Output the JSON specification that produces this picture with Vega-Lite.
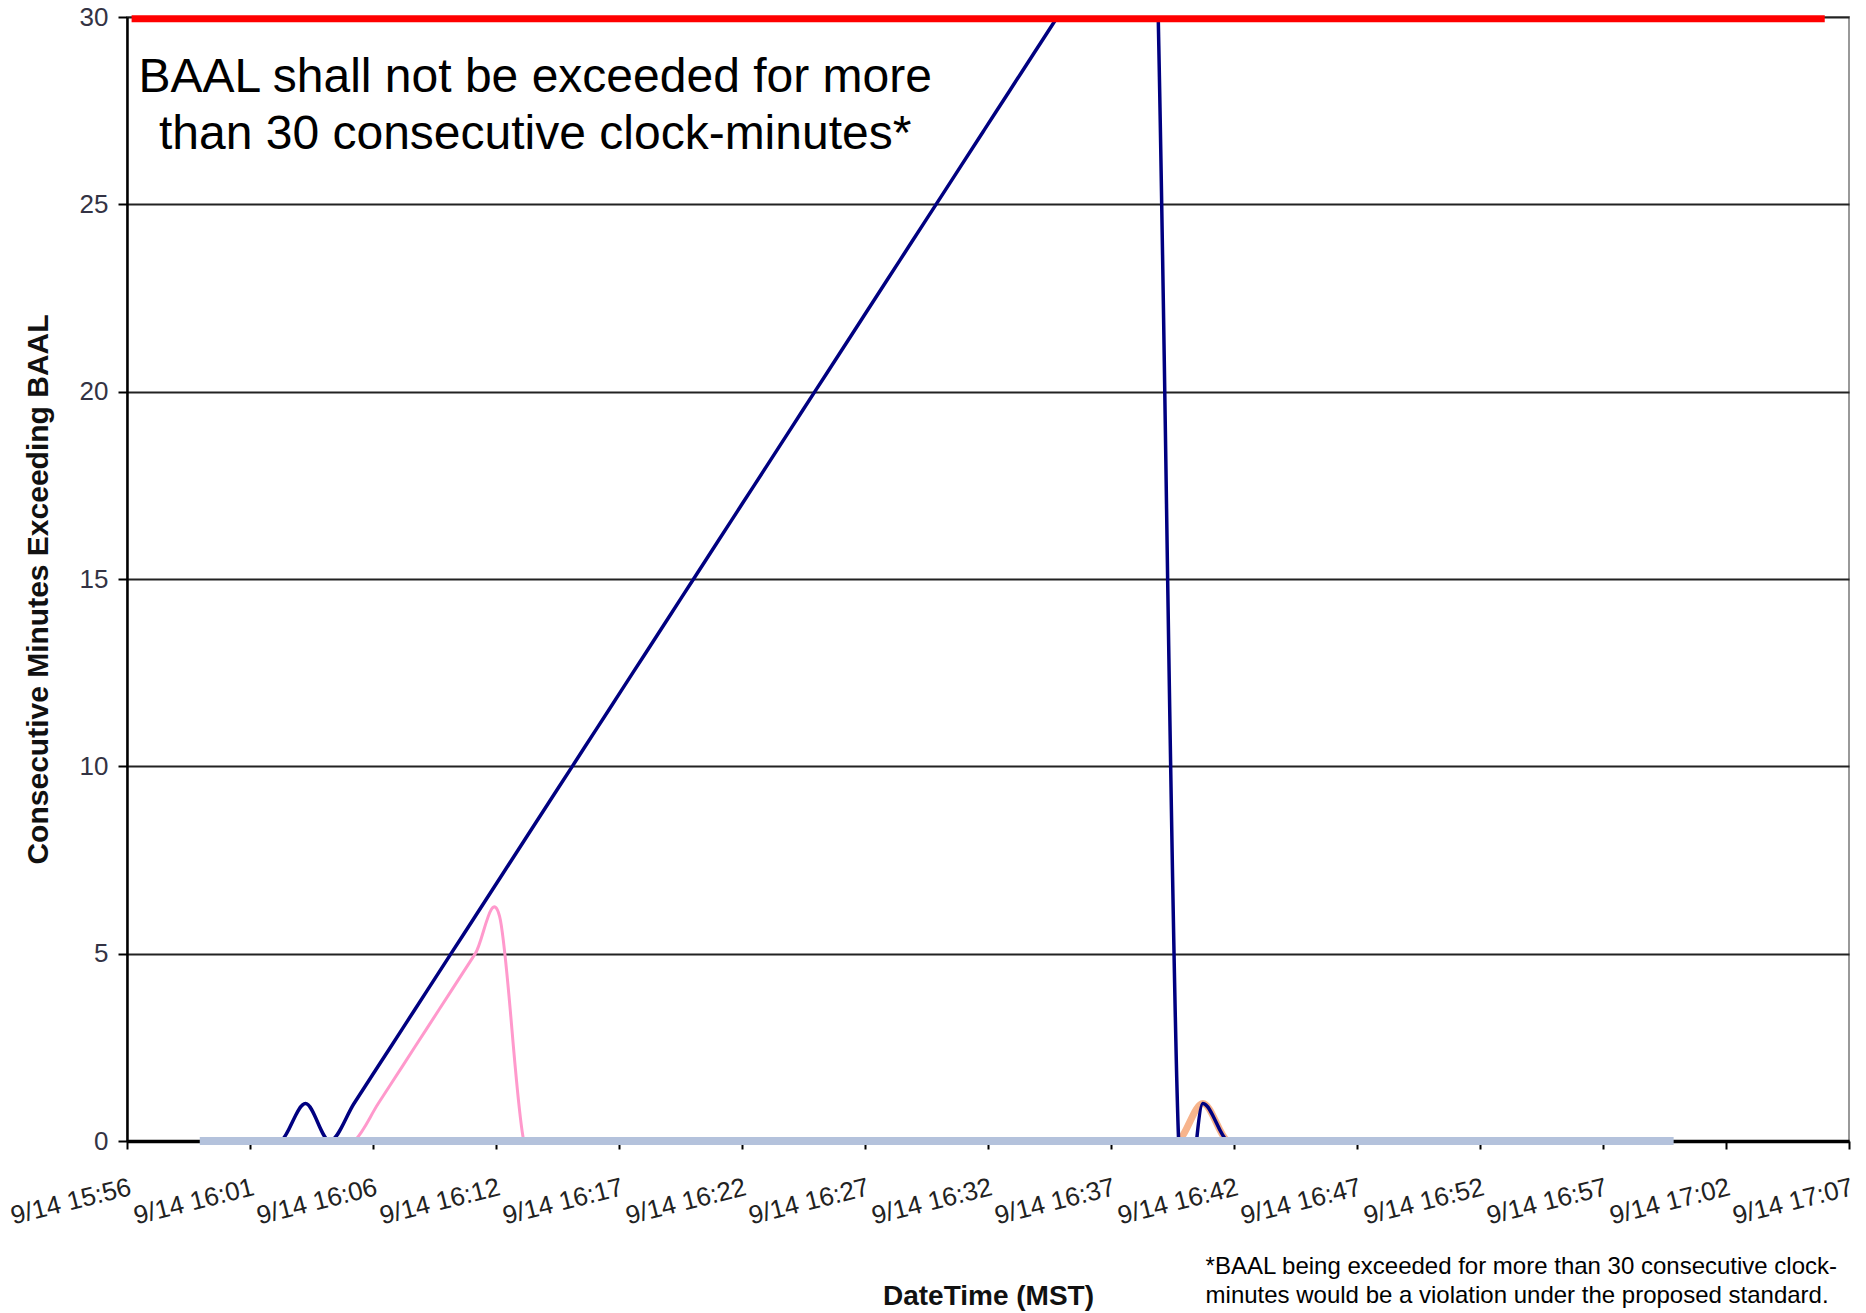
{
  "$schema": "https://vega.github.io/schema/vega-lite/v6.json",
  "width": 1722,
  "height": 1124,
  "autosize": {"type": "none"},
  "padding": {"left": 127, "top": 17, "right": 17, "bottom": 172},
  "background": "white",
  "config": {
    "view": {"stroke": "#999999", "strokeWidth": 2},
    "axis": {"grid": false}
  },
  "datasets": {
    "main": [
      {"p": 3.36, "navy": 0, "pink": 0, "orange": 0},
      {"p": 4.36, "navy": 0, "pink": 0, "orange": 0},
      {"p": 5.36, "navy": 0, "pink": 0, "orange": 0},
      {"p": 6.36, "navy": 0, "pink": 0, "orange": 0},
      {"p": 7.36, "navy": 1, "pink": 0, "orange": 0},
      {"p": 8.36, "navy": 0, "pink": 0, "orange": 0},
      {"p": 9.36, "navy": 1, "pink": 0, "orange": 0},
      {"p": 10.36, "navy": 2, "pink": 1, "orange": 0},
      {"p": 11.36, "navy": 3, "pink": 2, "orange": 0},
      {"p": 12.36, "navy": 4, "pink": 3, "orange": 0},
      {"p": 13.36, "navy": 5, "pink": 4, "orange": 0},
      {"p": 14.36, "navy": 6, "pink": 5, "orange": 0},
      {"p": 15.36, "navy": 7, "pink": 6, "orange": 0},
      {"p": 16.36, "navy": 8, "pink": 0, "orange": 0},
      {"p": 17.36, "navy": 9, "pink": 0, "orange": 0},
      {"p": 18.36, "navy": 10, "pink": 0, "orange": 0},
      {"p": 19.36, "navy": 11, "pink": 0, "orange": 0},
      {"p": 20.36, "navy": 12, "pink": 0, "orange": 0},
      {"p": 21.36, "navy": 13, "pink": 0, "orange": 0},
      {"p": 22.36, "navy": 14, "pink": 0, "orange": 0},
      {"p": 23.36, "navy": 15, "pink": 0, "orange": 0},
      {"p": 24.36, "navy": 16, "pink": 0, "orange": 0},
      {"p": 25.36, "navy": 17, "pink": 0, "orange": 0},
      {"p": 26.36, "navy": 18, "pink": 0, "orange": 0},
      {"p": 27.36, "navy": 19, "pink": 0, "orange": 0},
      {"p": 28.36, "navy": 20, "pink": 0, "orange": 0},
      {"p": 29.36, "navy": 21, "pink": 0, "orange": 0},
      {"p": 30.36, "navy": 22, "pink": 0, "orange": 0},
      {"p": 31.36, "navy": 23, "pink": 0, "orange": 0},
      {"p": 32.36, "navy": 24, "pink": 0, "orange": 0},
      {"p": 33.36, "navy": 25, "pink": 0, "orange": 0},
      {"p": 34.36, "navy": 26, "pink": 0, "orange": 0},
      {"p": 35.36, "navy": 27, "pink": 0, "orange": 0},
      {"p": 36.36, "navy": 28, "pink": 0, "orange": 0},
      {"p": 37.36, "navy": 29, "pink": 0, "orange": 0},
      {"p": 38.36, "navy": 30, "pink": 0, "orange": 0},
      {"p": 39.36, "navy": 31, "pink": 0, "orange": 0},
      {"p": 40.36, "navy": 32, "pink": 0, "orange": 0},
      {"p": 41.36, "navy": 33, "pink": 0, "orange": 0},
      {"p": 42.36, "navy": 34, "pink": 0, "orange": 0},
      {"p": 43.36, "navy": 0, "pink": 0, "orange": 0},
      {"p": 44.36, "navy": 1, "pink": 0, "orange": 1},
      {"p": 45.36, "navy": 0, "pink": 0, "orange": 0},
      {"p": 46.36, "navy": 0, "pink": 0, "orange": 0},
      {"p": 47.36, "navy": 0, "pink": 0, "orange": 0},
      {"p": 48.36, "navy": 0, "pink": 0, "orange": 0},
      {"p": 49.36, "navy": 0, "pink": 0, "orange": 0},
      {"p": 50.36, "navy": 0, "pink": 0, "orange": 0},
      {"p": 51.36, "navy": 0, "pink": 0, "orange": 0},
      {"p": 52.36, "navy": 0, "pink": 0, "orange": 0},
      {"p": 53.36, "navy": 0, "pink": 0, "orange": 0},
      {"p": 54.36, "navy": 0, "pink": 0, "orange": 0},
      {"p": 55.36, "navy": 0, "pink": 0, "orange": 0},
      {"p": 56.36, "navy": 0, "pink": 0, "orange": 0},
      {"p": 57.36, "navy": 0, "pink": 0, "orange": 0},
      {"p": 58.36, "navy": 0, "pink": 0, "orange": 0},
      {"p": 59.36, "navy": 0, "pink": 0, "orange": 0},
      {"p": 60.36, "navy": 0, "pink": 0, "orange": 0},
      {"p": 61.36, "navy": 0, "pink": 0, "orange": 0},
      {"p": 62.36, "navy": 0, "pink": 0, "orange": 0},
      {"p": 63.36, "navy": 0, "pink": 0, "orange": 0}
    ],
    "base": [
      {"p": 3.0, "v": 0},
      {"p": 63.77, "v": 0}
    ],
    "baal": [
      {"p": 0.19, "v": 29.95},
      {"p": 70.0, "v": 29.95}
    ]
  },
  "layer": [
    {
      "data": {"name": "main"},
      "mark": {"type": "line", "color": "#F7B48C", "strokeWidth": 7, "interpolate": "cardinal", "tension": 0, "clip": true},
      "encoding": {
        "x": {
          "field": "p", "type": "quantitative",
          "scale": {"domain": [0, 71], "nice": false, "zero": false},
          "axis": {
            "title": "DateTime (MST)",
            "values": [0, 5.0714286, 10.1428571, 15.2142857, 20.2857143, 25.3571429, 30.4285714, 35.5, 40.5714286, 45.6428571, 50.7142857, 55.7857143, 60.8571429, 65.9285714, 71],
            "labelExpr": "['9/14 15:56','9/14 16:01','9/14 16:06','9/14 16:12','9/14 16:17','9/14 16:22','9/14 16:27','9/14 16:32','9/14 16:37','9/14 16:42','9/14 16:47','9/14 16:52','9/14 16:57','9/14 17:02','9/14 17:07'][round(datum.value / 5.0714286)]",
            "labelAngle": -14,
            "labelAlign": "right",
            "labelBaseline": "top",
            "labelFont": "Liberation Sans",
            "labelFontSize": 26,
            "labelColor": "#222222",
            "labelPadding": 25,
            "labelOverlap": false,
            "labelFlush": false,
            "labelBound": false,
            "domainColor": "#000000",
            "domainWidth": 3.5,
            "tickColor": "#000000",
            "tickWidth": 2,
            "tickSize": 8,
            "titleFont": "Liberation Sans",
            "titleFontWeight": "bold",
            "titleFontSize": 28,
            "titleColor": "#111111",
            "titleX": 861,
            "titleY": 163,
            "titleBaseline": "alphabetic",
            "titleAlign": "center"
          }
        },
        "y": {
          "field": "orange", "type": "quantitative",
          "scale": {"domain": [0, 30], "nice": false},
          "axis": {
            "title": "Consecutive Minutes Exceeding BAAL",
            "values": [0, 5, 10, 15, 20, 25, 30],
            "grid": true,
            "gridColor": "#222222",
            "gridWidth": 2,
            "labelFont": "Liberation Sans",
            "labelFontSize": 26,
            "labelColor": "#333344",
            "labelPadding": 10,
            "domainColor": "#000000",
            "domainWidth": 2.5,
            "tickColor": "#000000",
            "tickWidth": 2,
            "tickSize": 9,
            "titleFont": "Liberation Sans",
            "titleFontWeight": "bold",
            "titleFontSize": 30,
            "titleColor": "#111111",
            "titleAngle": -90,
            "titleX": -89,
            "titleY": 572,
            "titleBaseline": "middle",
            "titleAlign": "center"
          }
        }
      }
    },
    {
      "data": {"name": "main"},
      "mark": {"type": "line", "color": "#FF99CC", "strokeWidth": 3, "interpolate": "cardinal", "tension": 0, "clip": true},
      "encoding": {
        "x": {"field": "p", "type": "quantitative"},
        "y": {"field": "pink", "type": "quantitative"}
      }
    },
    {
      "data": {"name": "main"},
      "mark": {"type": "line", "color": "#000080", "strokeWidth": 3.5, "interpolate": "cardinal", "tension": 0, "clip": true},
      "encoding": {
        "x": {"field": "p", "type": "quantitative"},
        "y": {"field": "navy", "type": "quantitative"}
      }
    },
    {
      "data": {"name": "base"},
      "mark": {"type": "line", "color": "#B4C2DC", "strokeWidth": 8},
      "encoding": {
        "x": {"field": "p", "type": "quantitative"},
        "y": {"field": "v", "type": "quantitative"}
      }
    },
    {
      "data": {"name": "baal"},
      "mark": {"type": "line", "color": "#FF0000", "strokeWidth": 7},
      "encoding": {
        "x": {"field": "p", "type": "quantitative"},
        "y": {"field": "v", "type": "quantitative"}
      }
    },
    {
      "data": {"values": [{}]},
      "mark": {"type": "text", "font": "Liberation Sans", "fontSize": 48, "align": "center", "baseline": "alphabetic", "lineHeight": 57, "color": "#000000"},
      "encoding": {
        "x": {"datum": 16.83, "type": "quantitative"},
        "y": {"datum": 28.0, "type": "quantitative"},
        "text": {"value": ["BAAL shall not be exceeded for more", "than 30 consecutive clock-minutes*"]}
      }
    },
    {
      "data": {"values": [{}]},
      "mark": {"type": "text", "font": "Liberation Sans", "fontSize": 24, "align": "left", "baseline": "alphabetic", "lineHeight": 29, "color": "#000000", "clip": false},
      "encoding": {
        "x": {"datum": 44.47, "type": "quantitative"},
        "y": {"datum": -3.55, "type": "quantitative"},
        "text": {"value": ["*BAAL being exceeded for more than 30 consecutive clock-", "minutes would be a violation under the proposed standard."]}
      }
    }
  ]
}
